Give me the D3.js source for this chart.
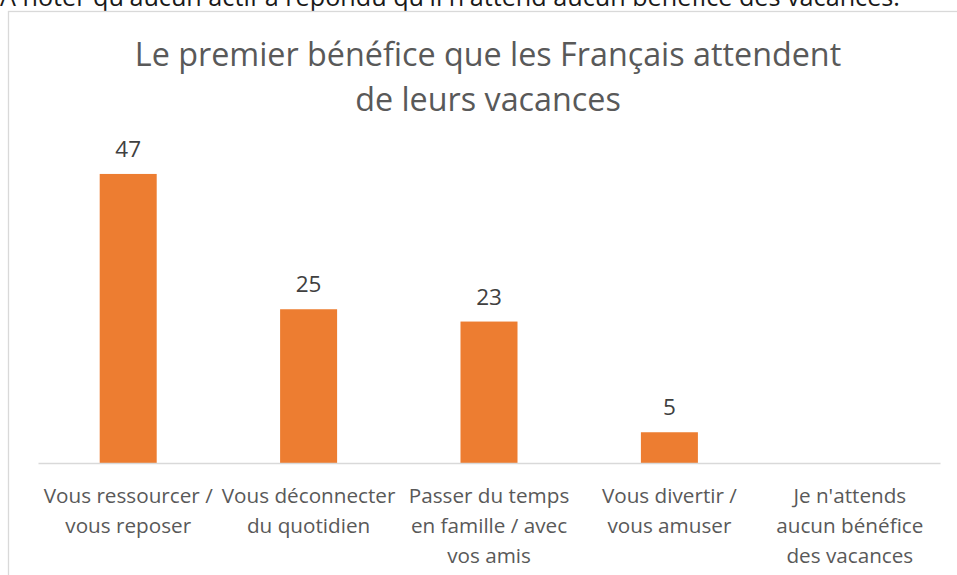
<!DOCTYPE html>
<html>
<head>
<meta charset="utf-8">
<script src="https://cdn.jsdelivr.net/npm/d3@7"></script>
<style>
  html, body { margin: 0; padding: 0; background: #fff; overflow: hidden; }
  svg { display: block; }
</style>
</head>
<body>
<svg id="chart" width="957" height="575"></svg>
<script>
// ---- Data ----
const noteText = "A noter qu'aucun actif a répondu qu'il n'attend aucun bénéfice des vacances.";
const titleLines = ["Le premier bénéfice que les Français attendent", "de leurs vacances"];
const categories = [
  "Vous ressourcer /\nvous reposer",
  "Vous déconnecter\ndu quotidien",
  "Passer du temps\nen famille / avec\nvos amis",
  "Vous divertir /\nvous amuser",
  "Je n'attends\naucun bénéfice\ndes vacances"
];
const values = [47, 25, 23, 5, null];
const yDomain = [0, 50];

// ---- Layout ----
const svg = d3.select("#chart");
const font = "'Open Sans', 'DejaVu Sans', sans-serif";
const baseY = 463, topY = 155.5;

// note text (cropped at top, as in the source)
svg.append("text")
  .attr("x", 0).attr("y", 6)
  .attr("font-family", font).attr("font-size", 25.2)
  .attr("fill", "#1a1a1a")
  .text(noteText);

// chart border
svg.append("rect")
  .attr("x", 8.5).attr("y", 11.5)
  .attr("width", 960).attr("height", 600)
  .attr("fill", "none").attr("stroke", "#d9d9d9").attr("stroke-width", 1.3);

// title
svg.append("text")
  .attr("text-anchor", "middle")
  .attr("font-family", font).attr("font-size", 32.3)
  .attr("fill", "#595959")
  .selectAll("tspan").data(titleLines).join("tspan")
  .attr("x", 488).attr("y", (d, i) => 66 + i * 45)
  .text(d => d);

const x = d3.scaleBand().domain(categories).range([38, 940])
  .paddingInner(0.684).paddingOuter(0.342);
const y = d3.scaleLinear().domain(yDomain).range([baseY, topY]);

const data = categories.map((c, i) => ({ c, v: values[i] }));

// bars
svg.append("g").selectAll("rect")
  .data(data.filter(d => d.v != null)).join("rect")
  .attr("x", d => x(d.c)).attr("width", x.bandwidth())
  .attr("y", d => y(d.v)).attr("height", d => y(0) - y(d.v))
  .attr("fill", "#ED7D31");

// data labels
svg.append("g").selectAll("text")
  .data(data.filter(d => d.v != null)).join("text")
  .attr("x", d => x(d.c) + x.bandwidth() / 2)
  .attr("y", d => y(d.v) - 17)
  .attr("text-anchor", "middle")
  .attr("font-family", font).attr("font-size", 22.5)
  .attr("fill", "#404040")
  .text(d => d.v);

// x axis
const xAxis = svg.append("g")
  .attr("transform", `translate(0,${baseY})`)
  .call(d3.axisBottom(x).tickSize(0).tickFormat(""));
xAxis.select(".domain").attr("stroke", "#d9d9d9").attr("stroke-width", 1.5);

xAxis.selectAll(".tick").each(function(d) {
  const t = d3.select(this).append("text")
    .attr("text-anchor", "middle")
    .attr("font-family", font).attr("font-size", 20.7)
    .attr("fill", "#595959");
  d.split("\n").forEach((line, i) => {
    t.append("tspan").attr("x", 0).attr("y", 40 + i * 30).text(line);
  });
});
</script>
</body>
</html>
